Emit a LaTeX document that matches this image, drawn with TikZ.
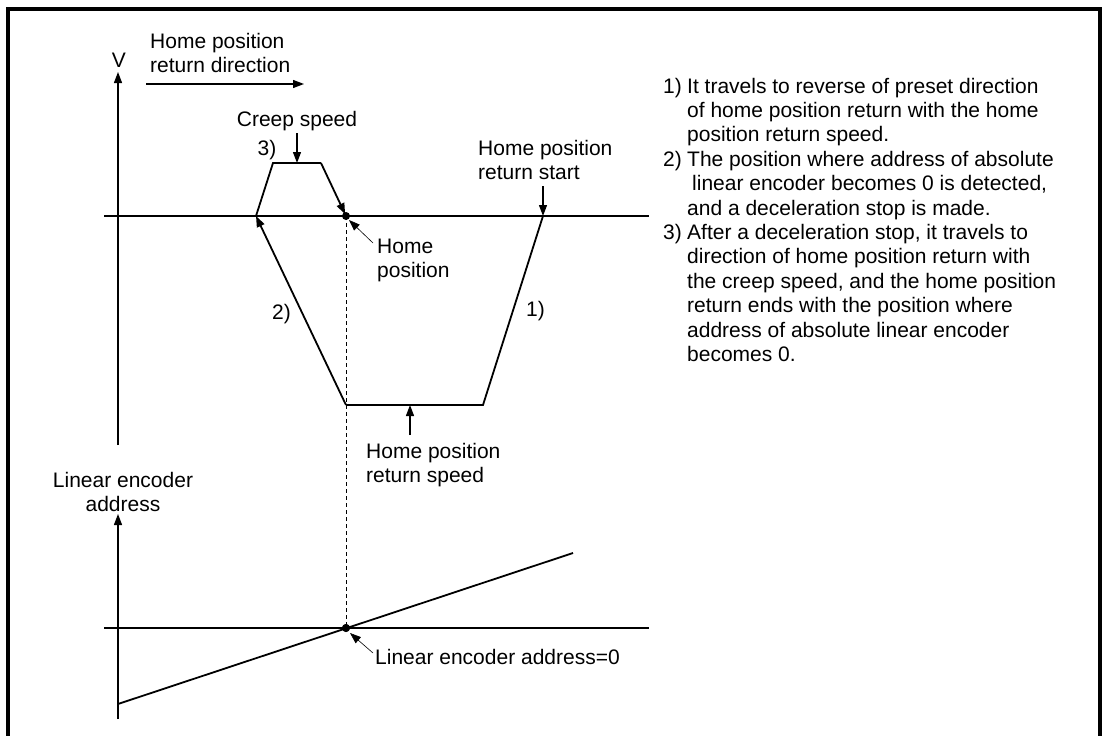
\documentclass[tikz,border=0pt]{standalone}
\usepackage{fontspec}
\setmainfont{Liberation Sans}
\usetikzlibrary{arrows.meta}
\begin{document}
\begin{tikzpicture}[x=1pt,y=-1pt,
  txt/.style={inner sep=0pt,font=\fontsize{21}{24.4}\selectfont},
  lw/.style={txt,anchor=base west},
  cw/.style={txt,anchor=base},
  axis/.style={line width=1.3pt},
  prof/.style={line width=1.8pt,line join=miter},
  tip/.style={-{Triangle[length=11pt,width=8pt]}},
  lead/.style={line width=0.6pt,-{Triangle[length=11pt,width=8pt]}},
  dot/.style={circle,fill=black,inner sep=0pt,minimum size=8pt}]
\useasboundingbox (0,0) rectangle (1104,736);
% frame
\draw[line width=4pt] (8,736) -- (8,9) -- (1100,9) -- (1100,736);

% ---------- upper chart ----------
\coordinate (vb) at (118,445);
\coordinate (vt) at (118,72);
\draw[axis,tip] (vb) -- (vt);
\node[cw] (V) at (119,67) {V};
\coordinate (hl) at (104,216);
\coordinate (hr) at (649,216);
\draw[axis] (hl) -- (hr);

% direction arrow
\coordinate (da) at (146,84);
\coordinate (db) at (304,84);
\draw[axis,tip] (da) -- (db);
\node[lw] (dir1) at (150,48) {Home position};
\node[lw] (dir2) at (150,72.4) {return direction};

% profile points
\coordinate (s) at (543,216);
\coordinate (br) at (483,405);
\coordinate (bl) at (346,405);
\coordinate (z) at (256,216);
\coordinate (cl) at (273,163);
\coordinate (cr) at (321,163);
\node[dot] (hp) at (346,216) {};

\draw[prof] (s) -- (br) -- (bl);
\draw[prof,tip] (bl) -- (z);
\draw[prof] (z) -- (cl) -- (cr);
\draw[prof,tip,shorten >=2pt] (cr) -- (hp.center);

% dashed vertical
\node[dot] (ez) at (346,628) {};
\draw[line width=0.7pt,dash pattern=on 4pt off 3pt] (hp.center) -- (ez.center);

% labels upper
\node[cw] (creep) at (297,126) {Creep speed};
\node[cw] (n3) at (267,155) {3)};
\coordinate (ca) at (297,133);
\coordinate (cb) at (297,163);
\draw[axis,tip] (ca) -- (cb);

\node[lw] (st1) at (478,155) {Home position};
\node[lw] (st2) at (478,179) {return start};
\coordinate (sa) at (543,186);
\draw[axis,tip] (sa) -- (s);

\node[lw] (n1) at (526,316) {1)};
\node[lw] (n2) at (272,319) {2)};

\node[lw] (hp1) at (377,253) {Home};
\node[lw] (hp2) at (377,277) {position};
\coordinate (hpa) at (373,243);
\coordinate (hpb) at (349,220);
\draw[lead] (hpa) -- (hpb);

\node[lw] (rs1) at (366,458) {Home position};
\node[lw] (rs2) at (366,482) {return speed};
\coordinate (rsa) at (410,435);
\coordinate (rsb) at (410,405);
\draw[axis,tip] (rsa) -- (rsb);

% ---------- lower chart ----------
\coordinate (lb) at (118,719);
\coordinate (lt) at (118,514);
\draw[axis,tip] (lb) -- (lt);
\node[cw] (la1) at (123,487) {Linear encoder};
\node[cw] (la2) at (123,511) {address};
\coordinate (ll) at (104,628);
\coordinate (lr) at (649,628);
\draw[axis] (ll) -- (lr);
\coordinate (e0) at (118,704);
\coordinate (e1) at (573,553);
\draw[prof] (e0) -- (e1);
\node[dot] at (ez) {};
\node[lw] (ez1) at (375,664) {Linear encoder address=0};
\coordinate (eza) at (373,653);
\coordinate (ezb) at (350,633);
\draw[lead] (eza) -- (ezb);

% ---------- right text ----------
\node[lw] (r1)  at (663,93)    {1)};
\node[lw] (r1a) at (687,93)    {It travels to reverse of preset direction};
\node[lw] (r1b) at (687,117.4) {of home position return with the home};
\node[lw] (r1c) at (687,141.8) {position return speed.};
\node[lw] (r2)  at (663,166.2) {2)};
\node[lw] (r2a) at (687,166.2) {The position where address of absolute};
\node[lw] (r2b) at (692,190.6) {linear encoder becomes 0 is detected,};
\node[lw] (r2c) at (687,215)   {and a deceleration stop is made.};
\node[lw] (r3)  at (663,239.4) {3)};
\node[lw] (r3a) at (687,239.4) {After a deceleration stop, it travels to};
\node[lw] (r3b) at (687,263.8) {direction of home position return with};
\node[lw] (r3c) at (687,288.2) {the creep speed, and the home position};
\node[lw] (r3d) at (687,312.6) {return ends with the position where};
\node[lw] (r3e) at (687,337)   {address of absolute linear encoder};
\node[lw] (r3f) at (687,361.4) {becomes 0.};
\end{tikzpicture}
\end{document}
